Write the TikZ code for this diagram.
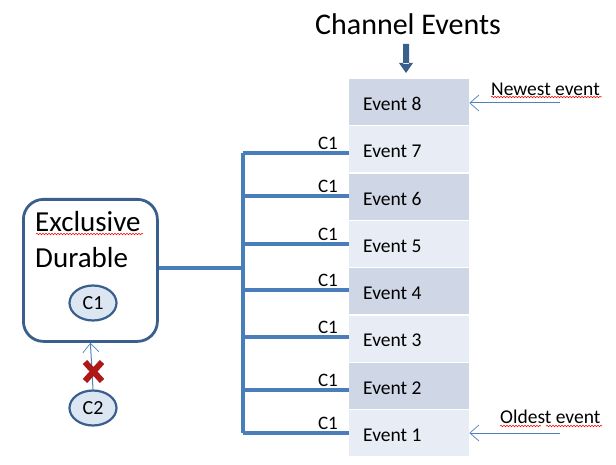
\documentclass[tikz,border=0pt]{standalone}
\usepackage{fontspec}
\setmainfont{Carlito}
\usetikzlibrary{arrows.meta,shapes.geometric,decorations.pathmorphing}
\definecolor{busblue}{HTML}{4A7EBB}
\definecolor{boxborder}{HTML}{3A5F8C}
\definecolor{rowdark}{HTML}{CFD6E5}
\definecolor{rowlight}{HTML}{E8ECF4}
\definecolor{ellfill}{HTML}{DCE6F2}
\definecolor{thinblue}{HTML}{4F81BD}
\definecolor{xred}{HTML}{B01818}
\begin{document}
\begin{tikzpicture}[x=1pt,y=-1pt,
  rowbox/.style={draw=none,minimum width=120pt,minimum height=45.8pt,anchor=north west,inner sep=0pt},
  evtext/.style={anchor=west,font=\fontsize{19.5}{21}\selectfont,inner sep=0pt},
  clabel/.style={anchor=south east,font=\fontsize{19}{21}\selectfont,inner sep=1pt},
  bus/.style={draw=busblue,line width=3.2pt},
  ell/.style={ellipse,draw=boxborder,fill=ellfill,line width=2.2pt,minimum width=47pt,minimum height=35pt,inner sep=0pt,font=\fontsize{20}{22}\selectfont},
  thinarrow/.style={draw=thinblue,line width=1pt,-{Straight Barb[length=9pt,width=16pt,line width=0.7pt]}},
  squig/.style={draw=red,line width=0.5pt,decorate,decoration={snake,amplitude=0.8pt,segment length=3pt}}
]
\useasboundingbox (0,0) rectangle (616,465);
% title
\node[font=\fontsize{30}{32}\selectfont,inner sep=0pt] (title) at (408,24) {Channel Events};
% event rows
\foreach \i/\c in {8/rowdark,7/rowlight,6/rowdark,5/rowlight,4/rowdark,3/rowlight,2/rowdark,1/rowlight}{
  \pgfmathsetmacro{\ty}{79+(8-\i)*47.3}
  \node[rowbox,fill=\c] (r\i) at (349,\ty) {};
  \node[evtext] (t\i) at ([xshift=14pt,yshift=-2pt]r\i.west) {Event \i};
}
% block arrow down
\coordinate (ba) at (406,44);
\fill[boxborder] (403,44) rectangle (409,64) (399,63) -- (413,63) -- (406,73) -- cycle;
% box
\node[draw=boxborder,line width=2.8pt,rounded corners=20pt,minimum width=134pt,minimum height=142pt,anchor=north west] (box) at (22,198) {};
\node[anchor=west,font=\fontsize{29}{31}\selectfont,inner sep=0pt] (ex) at (35,222) {Exclusive};
\node[anchor=west,font=\fontsize{29}{31}\selectfont,inner sep=0pt] (du) at (35,258) {Durable};
\draw[squig] (36,234) -- (143,234);
\node[ell] (c1) at (93,303) {C1};
\node[ell] (c2) at (93,408) {C2};
\draw[thinarrow] (c2.north) -- (box.south);
% red X
\draw[xred,line width=6pt] (85,362) -- (102,381) (102,362) -- (85,381);
% bus
\coordinate (btop) at (243,153);
\coordinate (bbot) at (243,433);
\draw[bus] (btop) -- (bbot);
\draw[bus] (box.east|-243,268) -- (243,268);
\foreach \y/\n in {153/a,196/b,244/c,290/d,337/e,390/f,433/g}{
  \coordinate (L\n) at (243,\y);
  \draw[bus] (L\n) -- (349,\y);
  \node[clabel] at (339,\y-2) {C1};
}
% side labels
\coordinate (ne) at (560,103);
\draw[thinarrow] (ne) -- (r8.east|-ne);
\node[anchor=west,font=\fontsize{19.5}{21}\selectfont,inner sep=0pt] (nl) at (491,89) {Newest event};
\draw[squig] (491,97) -- (602,97);
\coordinate (oe) at (560,433);
\draw[thinarrow] (oe) -- (r1.east|-oe);
\node[anchor=west,font=\fontsize{19.5}{21}\selectfont,inner sep=0pt] (ol) at (500,417) {Oldest event};
\draw[squig] (500,426) -- (541,426);
\draw[squig] (546,426) -- (602,426);
\end{tikzpicture}
\end{document}
